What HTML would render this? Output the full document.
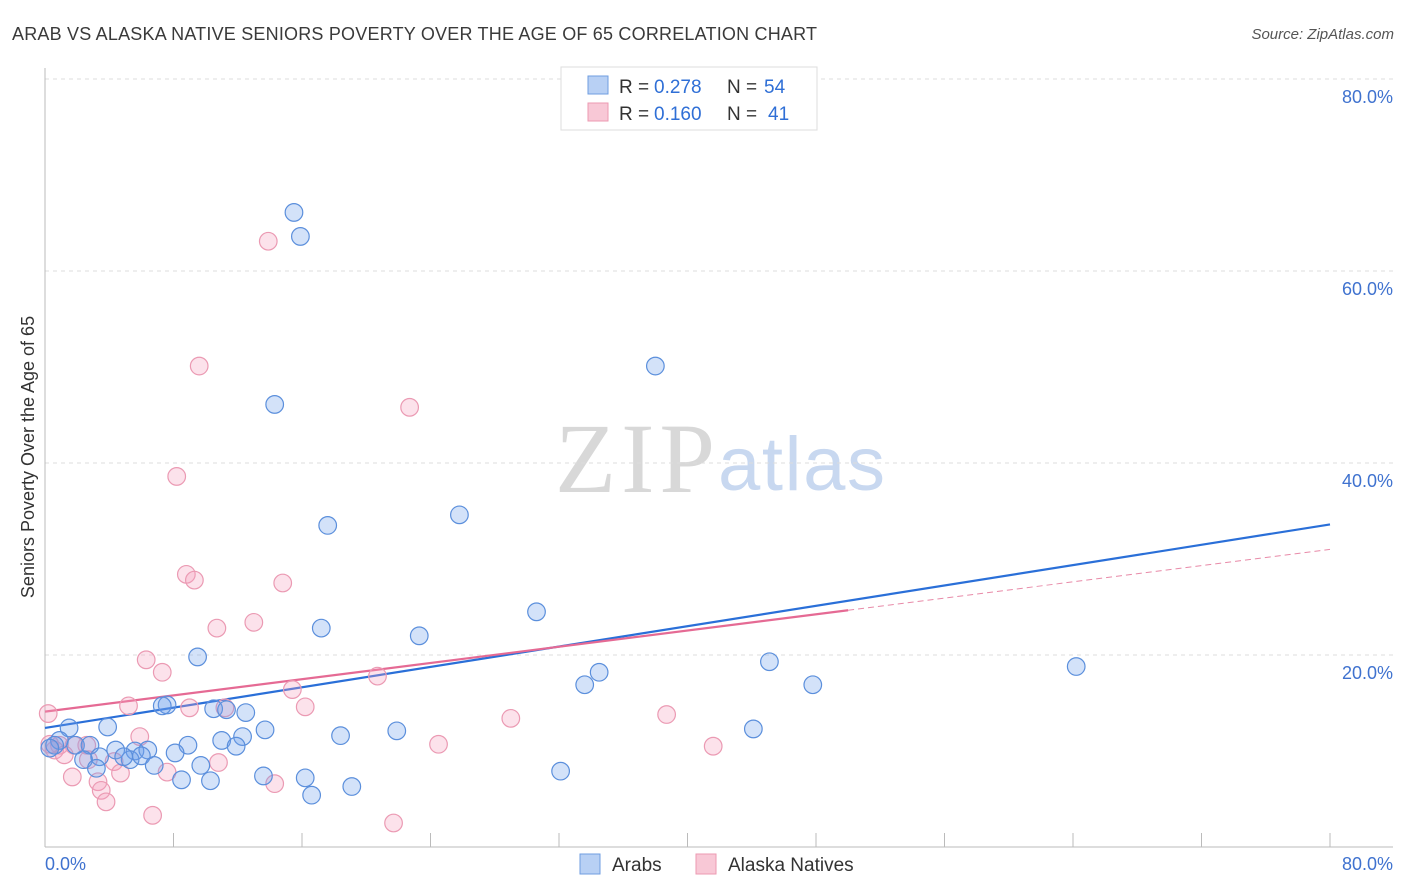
<!DOCTYPE html>
<html><head><meta charset="utf-8"><style>
body{margin:0;background:#fff;font-family:"Liberation Sans",sans-serif;}
svg{display:block}
</style></head><body>
<svg id="chart" width="1406" height="892">
<text x="12" y="40" font-size="18" fill="#3a3a3a" textLength="805">ARAB VS ALASKA NATIVE SENIORS POVERTY OVER THE AGE OF 65 CORRELATION CHART</text>
<text x="1394" y="39" font-size="15" fill="#555" text-anchor="end" font-style="italic">Source: ZipAtlas.com</text>
<text transform="translate(34,457) rotate(-90)" font-size="18" fill="#333" text-anchor="middle">Seniors Poverty Over the Age of 65</text>
<text x="555" y="492" font-size="100" fill="#d8d8d8" font-family="Liberation Serif,serif" textLength="160">ZIP</text>
<text x="718" y="490" font-size="76" fill="#c8d8f0" textLength="167">atlas</text>
<g id="grid"></g><g id="axes"></g><g id="trends"></g><g id="pts"></g>
<g>
<rect x="561" y="67" width="256" height="63" fill="#fff" stroke="#ddd"/>
<rect x="588" y="76" width="20" height="18" fill="#b8d0f4" stroke="#6f9ee0"/>
<rect x="588" y="103" width="20" height="18" fill="#f8c8d6" stroke="#ec9ab2"/>
<text x="619" y="93" font-size="19" fill="#333">R =</text>
<text x="654" y="93" font-size="19" fill="#2f6fd6">0.278</text>
<text x="727" y="93" font-size="19" fill="#333">N =</text>
<text x="764" y="93" font-size="19" fill="#2f6fd6">54</text>
<text x="619" y="120" font-size="19" fill="#333">R =</text>
<text x="654" y="120" font-size="19" fill="#2f6fd6">0.160</text>
<text x="727" y="120" font-size="19" fill="#333">N =</text>
<text x="768" y="120" font-size="19" fill="#2f6fd6">41</text>
</g>
<g>
<rect x="580" y="854" width="20" height="20" fill="#b8d0f4" stroke="#6f9ee0"/>
<text x="612" y="871" font-size="19" fill="#333">Arabs</text>
<rect x="696" y="854" width="20" height="20" fill="#f8c8d6" stroke="#ec9ab2"/>
<text x="728" y="871" font-size="19" fill="#333">Alaska Natives</text>
</g>
</svg>
<script>
const yTicks=[20,40,60,80];
const yTickLabels=["20.0%","40.0%","60.0%","80.0%"];
const xTicks=[8,16,24,32,40,48,56,64,72,80];
const arabX=[15.5,15.9,38.0,14.3,25.8,17.6,30.6,17.2,23.3,9.5,45.1,64.2,34.5,33.6,47.8,7.6,7.3,10.5,11.3,12.5,3.9,1.5,13.7,44.1,21.9,18.4,12.3,11.0,8.9,11.9,0.9,0.6,1.9,2.8,4.4,5.6,6.4,8.1,3.4,5.3,4.9,6.0,2.4,6.8,9.7,3.2,13.6,16.2,8.5,10.3,32.1,16.6,19.1,0.3];
const arabY=[66.1,63.6,50.1,46.1,34.6,33.5,24.5,22.8,22.0,19.8,19.3,18.8,18.2,16.9,16.9,14.8,14.7,14.4,14.3,14.0,12.5,12.4,12.2,12.3,12.1,11.6,11.5,11.1,10.6,10.5,11.1,10.6,10.6,10.6,10.1,10.0,10.1,9.8,9.4,9.1,9.4,9.5,9.1,8.5,8.5,8.2,7.4,7.2,7.0,6.9,7.9,5.4,6.3,10.3];
const akX=[13.9,9.6,22.7,8.2,8.8,9.3,14.8,10.7,13.0,6.3,7.3,20.7,15.4,5.2,9.0,16.2,11.2,29.0,38.7,0.2,5.9,2.6,1.8,0.9,24.5,41.6,2.7,0.6,4.3,10.8,7.6,4.7,1.7,3.3,14.3,3.5,3.8,6.7,21.7,0.3,1.2];
const akY=[63.1,50.1,45.8,38.6,28.4,27.8,27.5,22.8,23.4,19.5,18.2,17.8,16.4,14.7,14.5,14.6,14.5,13.4,13.8,13.9,11.5,10.6,10.6,10.6,10.7,10.5,9.1,10.1,8.9,8.8,7.8,7.7,7.3,6.8,6.6,5.9,4.7,3.3,2.5,10.7,9.6];
const arabTrend=[12.4,33.6];
const akTrend=[14.1,31.0];
const akSolidEnd=50;
const NS="http://www.w3.org/2000/svg";
const X=v=>45+v*(1285/80), Y=v=>847-v*9.6;
function mk(t,a,p){const e=document.createElementNS(NS,t);for(const k in a)e.setAttribute(k,a[k]);document.getElementById(p).appendChild(e);return e;}
yTicks.forEach((t,i)=>{
 const g=mk('line',{x1:45,x2:1393,y1:Y(t),y2:Y(t),stroke:'#ddd','stroke-dasharray':'4,4'},'grid');
 
 
 const l=mk('text',{x:1393,y:Y(t)+24,'font-size':18,fill:'#3f72cf','text-anchor':'end'},'grid');
 l.textContent=yTickLabels[i];
 
 
});
mk('line',{x1:45,x2:45,y1:68,y2:847,stroke:'#bbb'},'axes');
mk('line',{x1:45,x2:1393,y1:847,y2:847,stroke:'#bbb'},'axes');
xTicks.forEach(t=>{const e=mk('line',{x1:X(t),x2:X(t),y1:833,y2:847,stroke:'#bbb'},'axes');
 
 });
let t0=mk('text',{x:45,y:870,'font-size':18,fill:'#3f72cf'},'axes');t0.textContent='0.0%';


let t1=mk('text',{x:1393,y:870,'font-size':18,fill:'#3f72cf','text-anchor':'end'},'axes');t1.textContent='80.0%';


function pts(xs,ys,fill,stroke,name){xs.forEach((x,i)=>{const c=mk('circle',{cx:X(x),cy:Y(ys[i]),r:8.8,fill:fill,stroke:stroke,'stroke-width':1.2},'pts');
 
 });}
pts(akX,akY,'rgba(244,160,188,0.3)','#eb9ab3','alaska-native-point');
pts(arabX,arabY,'rgba(110,160,235,0.3)','#5b8fdc','arab-point');
const lerp=(a,v)=>a[0]+(a[1]-a[0])*v/80;
const tb=mk('line',{x1:X(0),y1:Y(arabTrend[0]),x2:X(80),y2:Y(arabTrend[1]),stroke:'#2a6fd8','stroke-width':2.2},'trends');


const tp=mk('line',{x1:X(0),y1:Y(akTrend[0]),x2:X(akSolidEnd),y2:Y(lerp(akTrend,akSolidEnd)),stroke:'#e56a94','stroke-width':2.2},'trends');


const td=mk('line',{x1:X(akSolidEnd),y1:Y(lerp(akTrend,akSolidEnd)),x2:X(80),y2:Y(akTrend[1]),stroke:'#e88aa8','stroke-width':1,'stroke-dasharray':'6,4'},'trends');


</script>
</body></html>
